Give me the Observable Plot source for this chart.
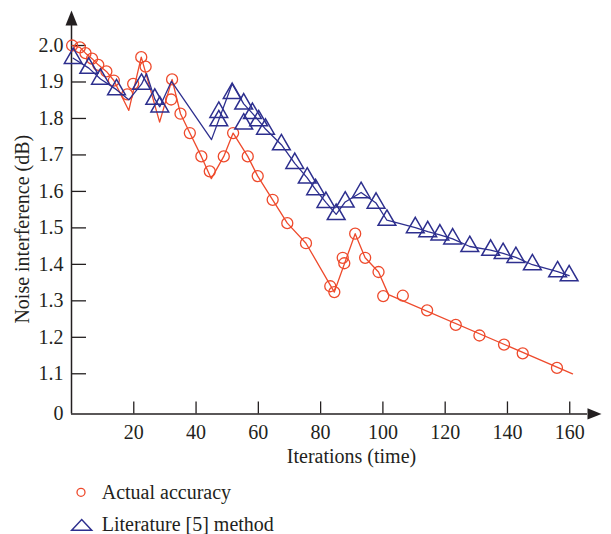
<!DOCTYPE html>
<html><head><meta charset="utf-8">
<script src="https://cdn.jsdelivr.net/npm/d3@7"></script>
<script src="https://cdn.jsdelivr.net/npm/@observablehq/plot@0.6"></script>
<style>
body{margin:0;background:#fff;}
#wrap{position:relative;width:611px;height:534px;font-family:"Liberation Serif","Times New Roman",serif;color:#231f20;}
.leg{position:absolute;font-size:20px;line-height:20px;white-space:nowrap;}
#legsym{position:absolute;left:0;top:0;}
</style></head><body><div id="wrap"></div>
<script>
// ---- data ----
const redMarkX = [0.2, 2.7, 4.5, 6.6, 8.6, 11.2, 13.6, 17.9, 19.8, 22.4, 23.8, 32.3, 32.0, 35.0, 38.0, 41.7, 44.4, 48.9, 51.9, 56.6, 59.8, 64.6, 69.3, 75.3, 83.1, 84.4, 87.1, 87.6, 91.1, 94.3, 98.6, 100.1, 106.4, 114.2, 123.4, 131.0, 138.9, 144.9, 155.9];
const redMarkY = [2.0, 1.995, 1.979, 1.964, 1.947, 1.929, 1.904, 1.866, 1.895, 1.968, 1.942, 1.907, 1.852, 1.813, 1.760, 1.696, 1.655, 1.696, 1.760, 1.696, 1.642, 1.577, 1.513, 1.458, 1.340, 1.324, 1.418, 1.403, 1.484, 1.418, 1.379, 1.313, 1.314, 1.274, 1.234, 1.205, 1.180, 1.156, 1.116];
const redLineX = [0.2, 2.7, 4.5, 6.6, 8.6, 11.2, 13.6, 18.4, 22.4, 28.3, 32.3, 35.0, 38.0, 41.7, 44.9, 48.9, 51.9, 56.6, 59.8, 64.6, 69.3, 75.3, 84.4, 91.1, 94.3, 98.6, 101.8, 160.9];
const redLineY = [2.0, 1.995, 1.979, 1.964, 1.947, 1.929, 1.904, 1.822, 1.968, 1.790, 1.907, 1.813, 1.760, 1.696, 1.635, 1.696, 1.760, 1.696, 1.642, 1.577, 1.513, 1.458, 1.324, 1.484, 1.418, 1.379, 1.317, 1.100];

const blueMarkX = [0.55, 5.56, 9.31, 14.45, 22.48, 26.75, 28.36, 47.3, 47.3, 51.6, 55.3, 55.3, 58.1, 60.1, 62.3, 67.4, 71.7, 75.7, 78.4, 81.7, 85.0, 87.9, 93.0, 97.8, 101.3, 110.4, 114.4, 118.3, 122.4, 127.9, 134.6, 138.6, 142.7, 148.0, 156.1, 159.8];
const blueMarkY = [1.965, 1.938, 1.908, 1.879, 1.894, 1.853, 1.832, 1.817, 1.794, 1.869, 1.840, 1.785, 1.814, 1.794, 1.771, 1.728, 1.677, 1.637, 1.605, 1.570, 1.537, 1.571, 1.597, 1.568, 1.521, 1.501, 1.490, 1.481, 1.470, 1.449, 1.439, 1.430, 1.419, 1.399, 1.380, 1.369];
const blueLineX = [0.55, 5.56, 9.31, 14.45, 18.4, 22.48, 24.1, 26.75, 28.36, 32.1, 44.96, 51.6, 55.3, 58.1, 60.1, 62.3, 67.4, 71.7, 75.7, 78.4, 81.7, 85.0, 87.9, 93.0, 97.8, 101.3, 110.4, 114.4, 118.3, 122.4, 127.9, 134.6, 138.6, 142.7, 148.0, 156.1, 159.8];
const blueLineY = [1.965, 1.938, 1.908, 1.879, 1.851, 1.894, 1.923, 1.853, 1.832, 1.902, 1.742, 1.895, 1.840, 1.814, 1.794, 1.771, 1.728, 1.677, 1.637, 1.605, 1.570, 1.537, 1.571, 1.597, 1.568, 1.521, 1.501, 1.490, 1.481, 1.470, 1.449, 1.439, 1.430, 1.419, 1.399, 1.380, 1.369];

const xTicks = [20, 40, 60, 80, 100, 120, 140, 160];
const yTickVals = [0.99, 1.1, 1.2, 1.3, 1.4, 1.5, 1.6, 1.7, 1.8, 1.9, 2.0];
const yTickLabels = ["0", "1.1", "1.2", "1.3", "1.4", "1.5", "1.6", "1.7", "1.8", "1.9", "2.0"];
const seriesNames = ["Actual accuracy", "Literature [5] method"];
const xLabel = "Iterations (time)";
const yLabel = "Noise interference (dB)";

// ---- layout ----
const W = 611, H = 475, ML = 71, MR = 10, MT = 10, MB = 61.6;
const xMax = 170.2, yMin = 0.99, yMax = 2.096;
const pxX = (W - ML - MR) / xMax, pxY = (H - MT - MB) / (yMax - yMin);
const yTickLen = 15 / pxX, xTickLen = 12 / pxY;
const yArrowBase = yMax - 15 / pxY, xArrowBase = xMax - 14 / pxX;
const red = "#ee4a2c", blue = "#2d2f8e", ink = "#231f20";
const font = '"Liberation Serif","Times New Roman",serif';

const redMarks = redMarkX.map((x, i) => ({x, y: redMarkY[i]}));
const redLine = redLineX.map((x, i) => ({x, y: redLineY[i]}));
const blueMarks = blueMarkX.map((x, i) => ({x, y: blueMarkY[i]}));
const blueLine = blueLineX.map((x, i) => ({x, y: blueLineY[i]}));
const labelMap = new Map(yTickVals.map((v, i) => [v, yTickLabels[i]]));

const arrowHead = {draw(ctx, size) {
  const r = Math.sqrt(size / Math.PI);
  ctx.moveTo(0, -2 * r); ctx.lineTo(0.8 * r, 0); ctx.lineTo(-0.8 * r, 0); ctx.closePath();
}};

const chart = Plot.plot({
  width: W, height: H, marginLeft: ML, marginRight: MR, marginTop: MT, marginBottom: MB,
  style: {fontFamily: font, fontSize: "20px", color: ink, background: "white", overflow: "visible"},
  x: {domain: [0, xMax], label: null},
  y: {domain: [yMin, yMax], label: null},
  marks: [
    Plot.ruleY(yTickVals.slice(1), {y: d => d, x1: 0, x2: yTickLen, stroke: ink, strokeWidth: 1.3}),
    Plot.ruleX(xTicks, {x: d => d, y1: yMin, y2: yMin + xTickLen, stroke: ink, strokeWidth: 1.3}),
    Plot.ruleX([0], {x: d => d, y1: yMin, y2: yArrowBase, stroke: ink, strokeWidth: 1.5}),
    Plot.ruleY([yMin], {y: d => d, x1: 0, x2: xArrowBase, stroke: ink, strokeWidth: 1.5}),
    Plot.dot([{x: 0, y: yArrowBase}], {x: "x", y: "y", symbol: arrowHead, r: 7.5, fill: ink, stroke: "none"}),
    Plot.dot([{x: xArrowBase, y: yMin}], {x: "x", y: "y", symbol: arrowHead, r: 7, rotate: 90, fill: ink, stroke: "none"}),
    Plot.axisY(yTickVals, {tickSize: 0, tickPadding: 8, tickFormat: d => labelMap.get(d), label: null, fontSize: 20}),
    Plot.axisX(xTicks, {tickSize: 0, tickPadding: 11, label: null, fontSize: 20}),
    Plot.text([xLabel], {text: d => d, frameAnchor: "bottom", textAnchor: "middle", dx: 15, dy: 43, fontSize: 20, lineAnchor: "middle"}),
    Plot.text([yLabel], {text: d => d, frameAnchor: "left", textAnchor: "middle", rotate: -90, dx: -49, dy: 17, fontSize: 20, lineAnchor: "middle"}),
    Plot.line(redLine, {x: "x", y: "y", stroke: red, strokeWidth: 1.3}),
    Plot.dot(redMarks, {x: "x", y: "y", r: 5.5, stroke: red, fill: "none", strokeWidth: 1.3}),
    Plot.line(blueLine, {x: "x", y: "y", stroke: blue, strokeWidth: 1.3}),
    Plot.dot(blueMarks, {x: "x", y: "y", symbol: "triangle", r: 6.6, stroke: blue, fill: "none", strokeWidth: 1.5})
  ]
});

const wrap = document.getElementById("wrap");
wrap.appendChild(chart);

// legend below the chart
const ns = "http://www.w3.org/2000/svg";
const ls = document.createElementNS(ns, "svg");
ls.setAttribute("id", "legsym");
ls.setAttribute("width", 100); ls.setAttribute("height", 534);
const c = document.createElementNS(ns, "circle");
c.setAttribute("cx", 81); c.setAttribute("cy", 492.3); c.setAttribute("r", 4);
c.setAttribute("fill", "none"); c.setAttribute("stroke", red); c.setAttribute("stroke-width", 1.3);
ls.appendChild(c);
const t = document.createElementNS(ns, "polygon");
t.setAttribute("points", "71.7,530.2 91.7,530.2 81.7,519.5");
t.setAttribute("fill", "none"); t.setAttribute("stroke", blue); t.setAttribute("stroke-width", 1.5);
ls.appendChild(t);
wrap.appendChild(ls);
[[seriesNames[0], 481.5], [seriesNames[1], 514]].forEach(([txt, top]) => {
  const d = document.createElement("div");
  d.className = "leg"; d.textContent = txt;
  d.style.left = "101.7px"; d.style.top = top + "px";
  wrap.appendChild(d);
});
</script></body></html>
